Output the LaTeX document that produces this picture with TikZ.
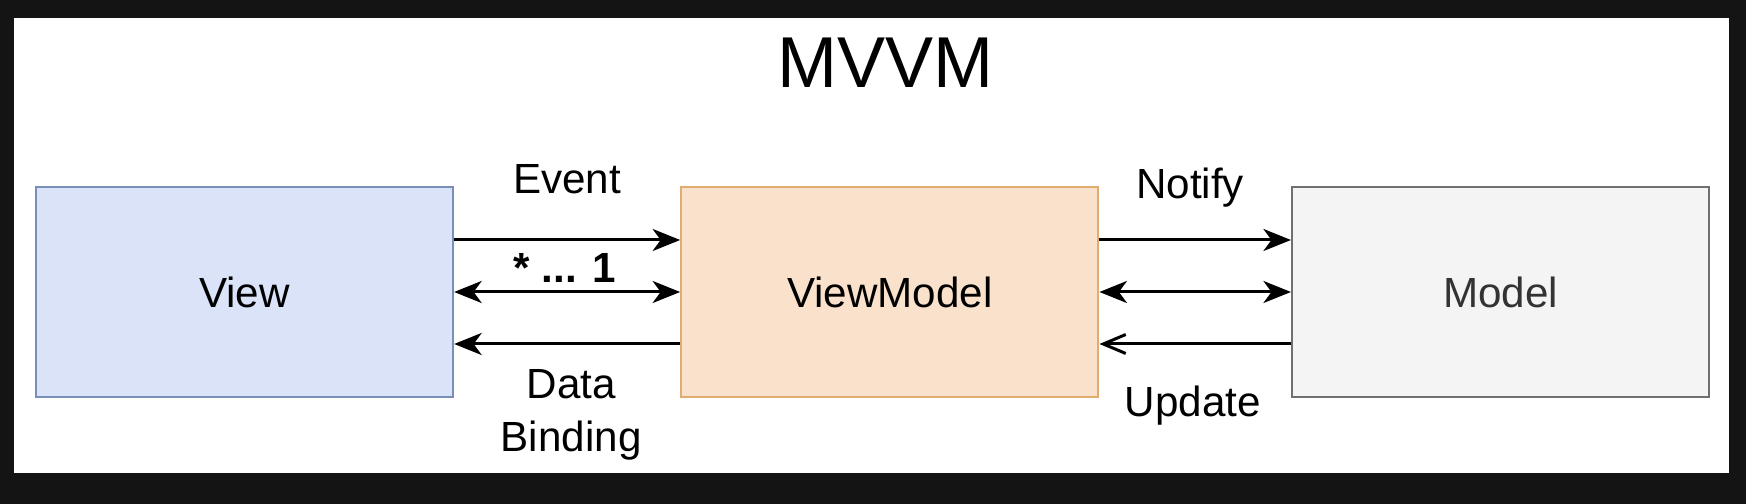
\documentclass[tikz,border=0pt]{standalone}
\usepackage{fontspec}
\setmainfont{Liberation Sans}
\usepackage{tikz}
\usetikzlibrary{positioning,arrows.meta}

\definecolor{bgdark}{RGB}{20,20,20}
\definecolor{viewfill}{RGB}{218,227,248}
\definecolor{viewline}{RGB}{122,142,184}
\definecolor{vmfill}{RGB}{249,225,204}
\definecolor{vmline}{RGB}{224,172,112}
\definecolor{modelfill}{RGB}{244,244,244}
\definecolor{modelline}{RGB}{112,112,112}

\begin{document}
\begin{tikzpicture}[
                    box/.style={rectangle,line width=1.3pt,minimum width=8.34cm,minimum height=4.2cm,font=\fontsize{24}{30}\selectfont},
                    lbl/.style={inner sep=0pt,font=\fontsize{24}{30}\selectfont,align=center},
                    fwd/.style={line width=1.7pt,-{Stealth[length=0.55cm,width=0.44cm,inset=0.16cm]}},
                    bwd/.style={line width=1.7pt,{Stealth[length=0.55cm,width=0.44cm,inset=0.16cm]}-},
                    both/.style={line width=1.7pt,{Stealth[length=0.55cm,width=0.44cm,inset=0.16cm]}-{Stealth[length=0.55cm,width=0.44cm,inset=0.16cm]}},
                    back/.style={line width=1.7pt,{Straight Barb[length=0.45cm,width=0.38cm]}-}
                ]
                \useasboundingbox (0,0) rectangle (34.92,10.08);
                \fill[bgdark] (0,0) rectangle (34.92,10.08);
                \fill[white] (0.28,0.62) rectangle (34.58,9.72);

                \node[box,draw=viewline,fill=viewfill] (view) at (4.89,4.24) {View};
                \node[box,draw=vmline,fill=vmfill,right=4.52cm of view] (vm) {ViewModel};
                \node[box,draw=modelline,fill=modelfill,text=black!80,right=3.83cm of vm] (model) {Model};
                \node[inner sep=0pt,font=\fontsize{41}{48}\selectfont,above=1.95cm of vm,xshift=-0.08cm] (title) {MVVM};

                \draw[fwd] ([yshift=1.04cm]view.east) -- node[lbl,above=0.9cm] (event) {Event} ([yshift=1.04cm]vm.west);
                \draw[both] (view.east) -- node[lbl,above=0.15cm,xshift=-0.05cm,font=\fontsize{24}{30}\selectfont\bfseries] (mult) {* ... 1} (vm.west);
                \draw[bwd] ([yshift=-1.04cm]view.east) -- node[lbl,below=0.48cm,xshift=0.08cm] (binding) {Data\\Binding} ([yshift=-1.04cm]vm.west);

                \draw[fwd] ([yshift=1.04cm]vm.east) -- node[lbl,above=0.62cm,xshift=-0.1cm] (notify) {Notify} ([yshift=1.04cm]model.west);
                \draw[both] (vm.east) -- (model.west);
                \draw[back] ([yshift=-1.04cm]vm.east) -- node[lbl,below=0.8cm,xshift=-0.05cm] (update) {Update} ([yshift=-1.04cm]model.west);
            \end{tikzpicture}
\end{document}
